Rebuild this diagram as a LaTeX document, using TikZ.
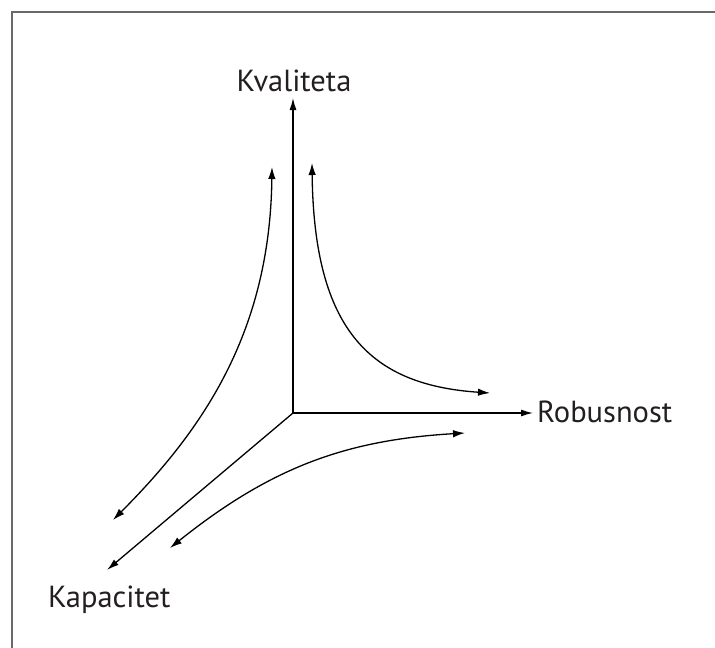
\documentclass[tikz,border=0pt]{standalone}
\usepackage{fontspec}
\setmainfont{PT Sans}
\usetikzlibrary{arrows.meta}
\definecolor{FrameColor}{RGB}{105,105,105}
\definecolor{TextColor}{RGB}{35,31,32}
\tikzset{
  axisarrow/.style={-{Latex[length=12pt,width=7pt]}, line width=1.3pt},
  tradearrow/.style={{Latex[length=12pt,width=7.5pt]}-{Latex[length=12pt,width=7.5pt]}, line width=1.3pt},
  axislabel/.style={inner sep=0pt, text=TextColor, font=\fontsize{30.5}{32}\selectfont},
}
\begin{document}
\begin{tikzpicture}[x=1pt, y=-1pt]
      \useasboundingbox (0,0) rectangle (715,648);
      \draw[FrameColor, line width=1.5pt] (12,648) -- (12,12) -- (715,12);

      \coordinate (O) at (293,413);
      \coordinate (qtip) at (293,98);
      \coordinate (rtip) at (533,413);
      \coordinate (ktip) at (107,570);

      \node[axislabel, anchor=base] (kval) at (294,91) {Kvaliteta};
      \node[axislabel, anchor=base west] (rob) at (537,422) {Robusnost};
      \node[axislabel, anchor=base west] (kap) at (48,607) {Kapacitet};

      \draw[axisarrow] (O)--(qtip);
      \draw[axisarrow] (O)--(rtip);
      \draw[axisarrow] (O)--(ktip);

      \coordinate (l1) at (272,167);
      \coordinate (l2) at (113,520);
      \coordinate (m1) at (312,163);
      \coordinate (m2) at (490,393);
      \coordinate (b1) at (465,433);
      \coordinate (b2) at (170,548);

      \draw[tradearrow] (l1) .. controls (270,330) and (205,428) .. (l2);
      \draw[tradearrow] (m1) .. controls (314,330) and (370,385) .. (m2);
      \draw[tradearrow] (b1) .. controls (345,440) and (270,468) .. (b2);
    \end{tikzpicture}
\end{document}
